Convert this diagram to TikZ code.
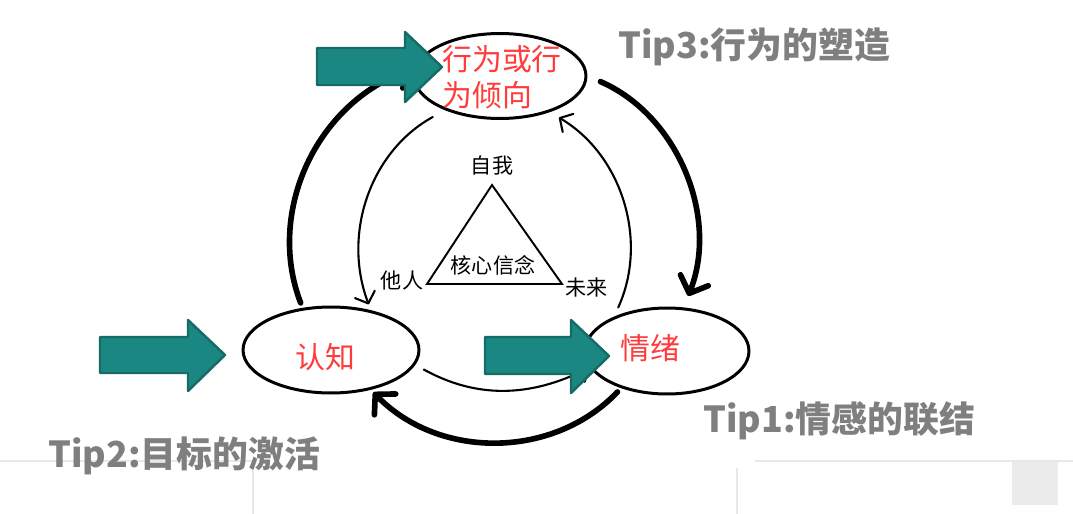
\documentclass[tikz,border=0pt]{standalone}
\usepackage{fontspec}
\setmainfont{Noto Sans CJK SC}
\usepackage{xcolor}
\usepackage{tikz}
\usetikzlibrary{positioning,arrows.meta,shapes.geometric}

\definecolor{tealfill}{HTML}{1A8782}
\definecolor{tealline}{HTML}{156B66}
\definecolor{tipgray}{HTML}{7F7F7F}
\definecolor{conceptred}{HTML}{FF3B3B}

\begin{document}
\begin{tikzpicture}[
    x=0.02cm, y=-0.02cm,
    phase/.style={ellipse, draw, line width=1.7pt, inner sep=0pt},
    concept/.style={text=conceptred, align=left, inner sep=0pt, font=\fontsize{17}{20.5}\selectfont},
    core/.style={inner sep=1pt, font=\fontsize{12}{14}\selectfont},
    tiplabel/.style={text=tipgray, anchor=base west, inner sep=0pt, font=\bfseries\fontsize{20.4}{24}\selectfont},
    bigarrow/.style={-{Straight Barb[round, length=8pt, width=17pt]}, line width=3.2pt, line cap=round},
    smallarrow/.style={-{Straight Barb[round, length=5.5pt, width=12pt]}, line width=1.2pt, line cap=round},
    pointer/.style={draw=tealline, fill=tealfill, line width=1.4pt, line join=round},
    scrap/.style={draw=black!9, line width=0.6pt}
]
\useasboundingbox (0,0) rectangle (1073,514);

% leftover frame lines
\draw[scrap] (0,461) -- (253,461) -- (253,514);
\draw[scrap] (755,461) -- (1073,461);
\draw[scrap] (737,468) -- (737,514);
\fill[black!8] (1012,462) rectangle (1058,505);

% States
\node[phase, minimum width=3.44cm, minimum height=1.7cm] (behav) at (500,76) {};
\node[phase, minimum width=3.52cm, minimum height=1.72cm] (cog) at (331,350) {};
\node[phase, minimum width=3.28cm, minimum height=1.72cm] (emo) at (667,351) {};

% Core triangle
\coordinate (apex) at (492,185);
\coordinate (lcorner) at (427,284);
\coordinate (rcorner) at (562,284);
\draw[line width=1.1pt] (apex) -- (lcorner) -- (rcorner) -- cycle;
\node[core, above=4.5pt of apex] (self) {自我};
\node[core] (belief) at (493,265) {核心信念};
\node[core, left=1pt of lcorner, yshift=2pt] (others) {他人};
\node[core, right=1pt of rcorner, yshift=-1.7pt] (future) {未来};

% Cycle arrows
\draw[bigarrow, shorten <=3pt] (cog.124) to[bend left=46] (behav.175);
\draw[bigarrow, shorten <=8pt, shorten >=7pt] (behav.east) to[bend left=44] (emo.69);
\draw[bigarrow, shorten <=3pt, shorten >=2pt] (emo.219) to[bend left=46] (cog.315);
\draw[smallarrow, shorten <=8pt, shorten >=3.5pt] (behav.212) to[bend right=41] (cog.45);
\draw[smallarrow, shorten <=5.7pt, shorten >=6pt] (emo.147) to[bend right=42] (behav.324);
\draw[smallarrow, shorten <=5.5pt] (cog.350) to[bend right=28] (emo.192);

% Pointers
\draw[pointer] (317,48) -- (405,48) -- (405,32) -- (442,67) -- (405,102) -- (405,85) -- (317,85) -- cycle;
\draw[pointer] (100,337) -- (188,337) -- (188,320) -- (225,355) -- (188,391) -- (188,373) -- (100,373) -- cycle;
\draw[pointer] (485,337) -- (571,337) -- (571,320) -- (609,356) -- (571,393) -- (571,374) -- (485,374) -- cycle;

% State labels
\node[concept] (behavtext) at (502,77) {行为或行\\为倾向};
\node[concept] (cogtext) at (325,357) {认知};
\node[concept] (emotext) at (650,348) {情绪};

% Tips
\node[tiplabel] (tip3) at (618,58) {Tip3:行为的塑造};
\node[tiplabel] (tip1) at (703,432) {Tip1:情感的联结};
\node[tiplabel] (tip2) at (48,467) {Tip2:目标的激活};

\end{tikzpicture}
\end{document}
